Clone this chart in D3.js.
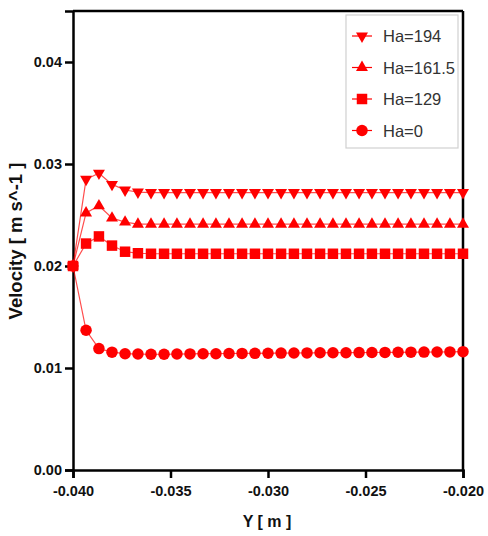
<!DOCTYPE html>
<html>
<head>
<meta charset="utf-8">
<script src="https://cdn.jsdelivr.net/npm/d3@7"></script>
<style>
  body { margin: 0; background: #fff; }
  .tick text { font-family: "Liberation Sans", Arial, sans-serif; font-weight: bold; font-size: 14.5px; fill: #111; }
</style>
</head>
<body>
<div id="chart"></div>
<script>
// Y positions [m]
var yPos = [-0.04, -0.03933, -0.03867, -0.038, -0.03733, -0.03667, -0.036, -0.03533, -0.03467, -0.034,
    -0.03333, -0.03267, -0.032, -0.03133, -0.03067, -0.03, -0.02933, -0.02867, -0.028, -0.02733,
    -0.02667, -0.026, -0.02533, -0.02467, -0.024, -0.02333, -0.02267, -0.022, -0.02133, -0.02067, -0.02];

// velocities for each Ha
var ha194 = [0.02, 0.0285, 0.0291, 0.0280, 0.02745, 0.02725, 0.0272, 0.0272, 0.0272, 0.0272,
    0.0272, 0.0272, 0.0272, 0.0272, 0.0272, 0.0272, 0.0272, 0.0272, 0.0272, 0.0272,
    0.0272, 0.0272, 0.0272, 0.0272, 0.0272, 0.0272, 0.0272, 0.0272, 0.0272, 0.0272, 0.0272];
var ha161 = [0.02, 0.0252, 0.0259, 0.0247, 0.0243, 0.0241, 0.0241, 0.0241, 0.0241, 0.0241,
    0.0241, 0.0241, 0.0241, 0.0241, 0.0241, 0.0241, 0.0241, 0.0241, 0.0241, 0.0241,
    0.0241, 0.0241, 0.0241, 0.0241, 0.0241, 0.0241, 0.0241, 0.0241, 0.0241, 0.0241, 0.0241];
var ha129 = [0.02, 0.0222, 0.0229, 0.0220, 0.0214, 0.02125, 0.0212, 0.0212, 0.0212, 0.0212,
    0.0212, 0.0212, 0.0212, 0.0212, 0.0212, 0.0212, 0.0212, 0.0212, 0.0212, 0.0212,
    0.0212, 0.0212, 0.0212, 0.0212, 0.0212, 0.0212, 0.0212, 0.0212, 0.0212, 0.0212, 0.0212];
var ha0 = [0.02, 0.0137, 0.0119, 0.01155, 0.0114, 0.01137, 0.01135, 0.01135, 0.01137, 0.01138,
    0.0114, 0.0114, 0.01142, 0.01143, 0.01144, 0.01145, 0.01146, 0.01147, 0.01148, 0.01149,
    0.0115, 0.0115, 0.01151, 0.01152, 0.01153, 0.01154, 0.01155, 0.01156, 0.01157, 0.01158, 0.0116];

var seriesNames = ["Ha=194", "Ha=161.5", "Ha=129", "Ha=0"];
var seriesValues = [ha194, ha161, ha129, ha0];
var xTicks = [-0.04, -0.035, -0.03, -0.025, -0.02];
var yTicks = [0, 0.01, 0.02, 0.03, 0.04];

var svgWidth = 488;
var svgHeight = 536;
var margin = { top: 11, right: 25, bottom: 66, left: 73 };
var width = svgWidth - margin.left - margin.right;
var height = svgHeight - margin.top - margin.bottom;

var red = "#ff0000";

var svg = d3.select("#chart")
    .append("svg")
    .attr("width", svgWidth)
    .attr("height", svgHeight);

var chartGroup = svg.append("g")
    .attr("transform", `translate(${margin.left},${margin.top})`);

var xScale = d3.scaleLinear().domain([-0.04, -0.02]).range([0, width]);
var yScale = d3.scaleLinear().domain([0, 0.045]).range([height, 0]);

// marker shapes per series
var shapes = [
    { type: d3.symbolTriangle, size: 62, rotate: 180 },
    { type: d3.symbolTriangle, size: 62, rotate: 0 },
    { type: d3.symbolSquare, size: 110, rotate: 0 },
    { type: d3.symbolCircle, size: 104, rotate: 0 }
];

// frame top and right
chartGroup.append("line")
    .attr("x1", 0).attr("x2", width).attr("y1", 0).attr("y2", 0)
    .attr("stroke", "#000").attr("stroke-width", 2.5);
chartGroup.append("line")
    .attr("x1", width).attr("x2", width).attr("y1", 0).attr("y2", height)
    .attr("stroke", "#000").attr("stroke-width", 2.5);

// axes
var xAxis = d3.axisBottom(xScale).tickValues(xTicks).tickFormat(d3.format(".3f")).tickSizeOuter(0).tickSize(8).tickPadding(8);
var yAxis = d3.axisLeft(yScale).tickValues(yTicks).tickFormat(d3.format(".2f")).tickSizeOuter(0).tickSize(8).tickPadding(3);

var gx = chartGroup.append("g")
    .attr("transform", `translate(0,${height})`)
    .call(xAxis);
var gy = chartGroup.append("g").call(yAxis);

[gx, gy].forEach(g => {
    g.select(".domain").attr("stroke", "#000").attr("stroke-width", 2.5);
    g.selectAll(".tick line").attr("stroke", "#000").attr("stroke-width", 2.5);
});
// plain hyphen instead of unicode minus
gx.selectAll(".tick text").text(d => d3.format(".3f")(d).replace("\u2212", "-"));

// lines and markers, bottom series first
var line = d3.line()
    .x((d, i) => xScale(yPos[i]))
    .y(d => yScale(d));

for (var s = seriesValues.length - 1; s >= 0; s--) {
    var vals = seriesValues[s];
    var sh = shapes[s];
    chartGroup.append("path")
        .datum(vals)
        .attr("d", line)
        .attr("fill", "none")
        .attr("stroke", red)
        .attr("stroke-opacity", 0.7)
        .attr("stroke-width", 1.2);

    chartGroup.selectAll(".m" + s)
        .data(vals)
        .enter()
        .append("path")
        .attr("class", "m" + s)
        .attr("d", d3.symbol().type(sh.type).size(sh.size))
        .attr("transform", (d, i) => `translate(${xScale(yPos[i])},${yScale(d)}) rotate(${sh.rotate})`)
        .attr("fill", red);
}

// axis labels
svg.append("text")
    .attr("transform", "translate(22,241) rotate(-90)")
    .attr("text-anchor", "middle")
    .attr("font-family", "Liberation Sans, Arial, sans-serif")
    .attr("font-weight", "bold")
    .attr("font-size", "18.5px")
    .attr("fill", "#111")
    .text("Velocity [ m s^-1 ]");

svg.append("text")
    .attr("x", margin.left + width / 2 - 1)
    .attr("y", 527)
    .attr("text-anchor", "middle")
    .attr("font-family", "Liberation Sans, Arial, sans-serif")
    .attr("font-weight", "bold")
    .attr("font-size", "16px")
    .attr("fill", "#111")
    .text("Y [ m ]");

// legend
var legend = svg.append("g").attr("transform", "translate(346,15)");
legend.append("rect")
    .attr("width", 112).attr("height", 133)
    .attr("fill", "#fff")
    .attr("stroke", "#d0d0d0").attr("stroke-width", 1.2);

var items = legend.selectAll(".item")
    .data(seriesNames)
    .enter()
    .append("g")
    .attr("class", "item")
    .attr("transform", (d, i) => `translate(0,${21 + i * 31.5})`);

items.append("line")
    .attr("x1", 6).attr("x2", 26)
    .attr("stroke", red).attr("stroke-width", 1.2);
items.append("path")
    .attr("d", (d, i) => d3.symbol().type(shapes[i].type).size(shapes[i].size)())
    .attr("transform", (d, i) => `translate(16,0) rotate(${shapes[i].rotate})`)
    .attr("fill", red);
items.append("text")
    .attr("x", 37)
    .attr("y", 6)
    .attr("font-family", "Liberation Sans, Arial, sans-serif")
    .attr("font-size", "16.5px")
    .attr("fill", "#333")
    .text(d => d);
</script>
</body>
</html>
